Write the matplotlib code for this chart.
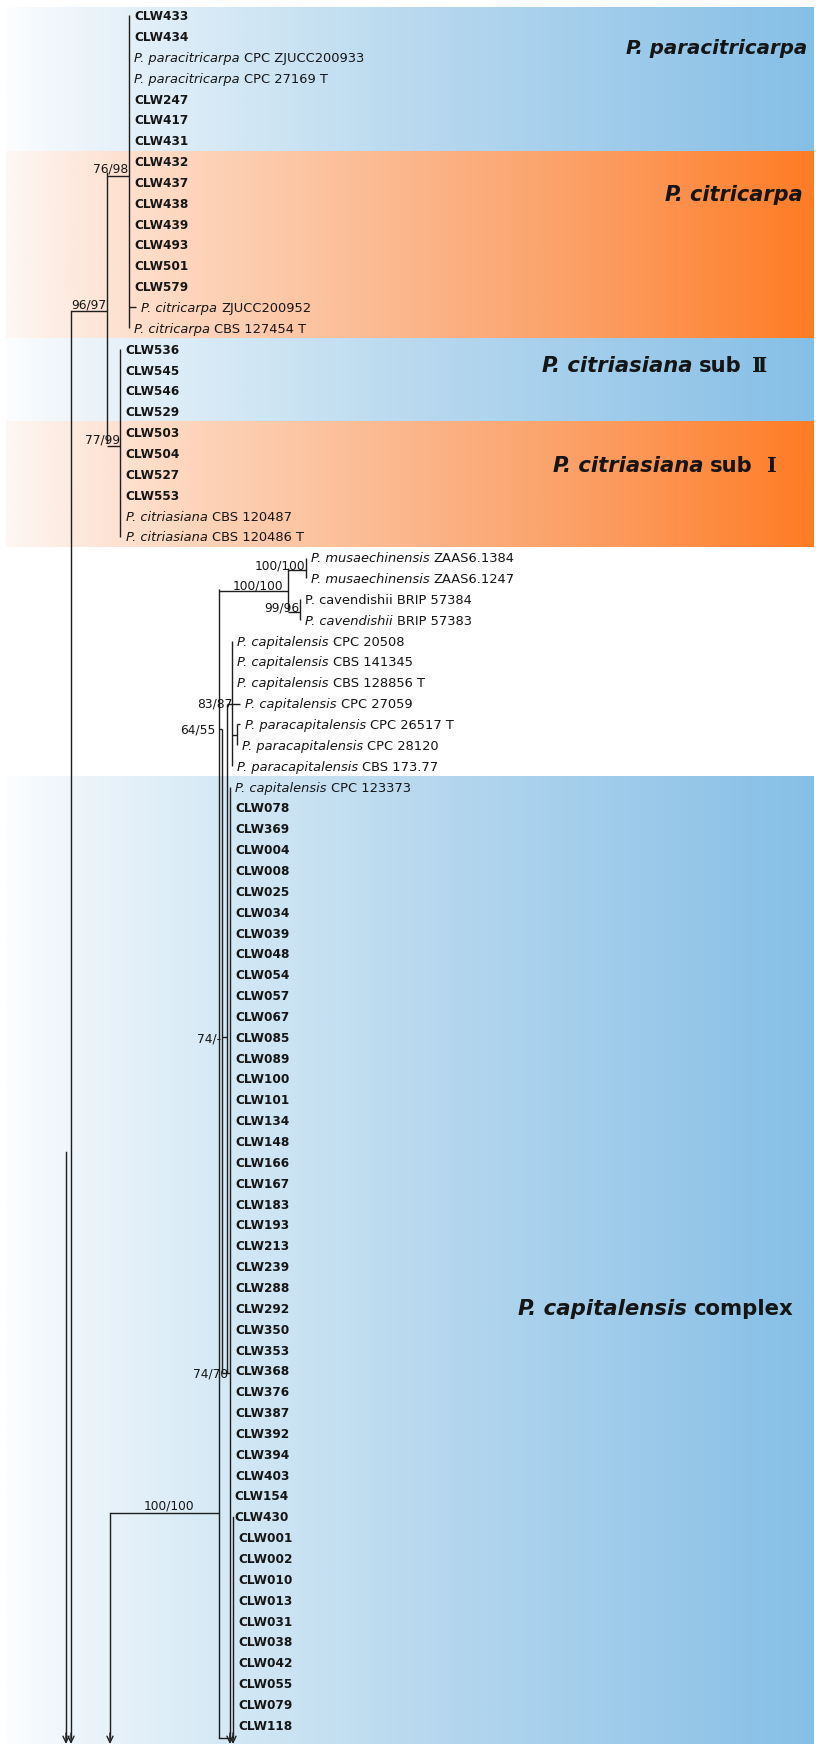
import matplotlib
matplotlib.use("Agg")
import matplotlib.pyplot as plt
import numpy as np
from matplotlib.colors import LinearSegmentedColormap

# ---------------- data ----------------
# tip labels: "italic part|regular part"; bold CLW isolates have no "|"
tips_paracitricarpa = ["CLW433", "CLW434", "P. paracitricarpa|CPC ZJUCC200933",
                       "P. paracitricarpa|CPC 27169 T", "CLW247", "CLW417", "CLW431"]
tips_citricarpa = ["CLW432", "CLW437", "CLW438", "CLW439", "CLW493", "CLW501", "CLW579",
                   "P. citricarpa|ZJUCC200952", "P. citricarpa|CBS 127454 T"]
tips_sub2 = ["CLW536", "CLW545", "CLW546", "CLW529"]
tips_sub1 = ["CLW503", "CLW504", "CLW527", "CLW553",
             "P. citriasiana|CBS 120487", "P. citriasiana|CBS 120486 T"]
tips_other = ["P. musaechinensis|ZAAS6.1384", "P. musaechinensis|ZAAS6.1247",
              "|P. cavendishii BRIP 57384", "P. cavendishii|BRIP 57383",
              "P. capitalensis|CPC 20508", "P. capitalensis|CBS 141345",
              "P. capitalensis|CBS 128856 T", "P. capitalensis|CPC 27059",
              "P. paracapitalensis|CPC 26517 T", "P. paracapitalensis|CPC 28120",
              "P. paracapitalensis|CBS 173.77"]
tips_complex = ["P. capitalensis|CPC 123373",
                "CLW078", "CLW369", "CLW004", "CLW008", "CLW025", "CLW034", "CLW039",
                "CLW048", "CLW054", "CLW057", "CLW067", "CLW085", "CLW089", "CLW100",
                "CLW101", "CLW134", "CLW148", "CLW166", "CLW167", "CLW183", "CLW193",
                "CLW213", "CLW239", "CLW288", "CLW292", "CLW350", "CLW353", "CLW368",
                "CLW376", "CLW387", "CLW392", "CLW394", "CLW403", "CLW154", "CLW430",
                "CLW001", "CLW002", "CLW010", "CLW013", "CLW031", "CLW038", "CLW042",
                "CLW055", "CLW079", "CLW118"]

# x of the node each tip hangs on, and x where the tip branch ends (tree units)
tip_node_x = ([129] * 16 + [120] * 10 + [306, 306, 300, 300] +
              [232, 232, 232, 232, 237, 237, 232] + [230] * 36 + [233] * 10)
tip_end_x = ([129] * 14 + [136, 129] + [120.5] * 10 + [306, 306, 300, 300] +
             [232, 232, 232, 240, 240, 237, 232] + [230] * 34 + [229, 229] + [233] * 10)

# internal nodes: x, first row, last row, parent x, joining row, support
node_x      = [129, 120, 107, 306, 300, 288, 237, 232, 226.5, 222, 230, 219]
node_top    = [0, 16, 7.5, 26, 28, 26.5, 34, 30, 33, 34.2, 37, 27.5]
node_bot    = [15, 25, 20.5, 27, 29, 28.5, 35, 36, 65.1, 65.1, 82.6, 82.6]
node_par_x  = [107, 107, 71, 288, 288, 219, 232, 226.5, 222, 219, 222, 110]
node_join   = [7.7, 20.65, 14.17, 26.6, 28.6, 27.6, 34.5, 33, 49, 34.2, 65.1, 71.8]
node_support = ["76/98", "77/99", "96/97", "100/100", "99/96", "100/100", "",
                "83/87", "74/-", "64/55", "74/70", "100/100"]

# lines that continue off the bottom of the figure (x, starting row)
cont_x   = [66, 71, 110, 233]
cont_top = [54.5, 14.17, 71.8, 72]

# coloured clade bands and their labels
band_first = [-0.4, 6.5, 15.5, 19.5, 36.5]
band_last  = [6.5, 15.5, 19.5, 25.5, 83.0]
band_kind  = ["blue", "orange", "blue", "orange", "blue"]
band_italic = ["P. paracitricarpa", "P. citricarpa", "P. citriasiana", "P. citriasiana",
               "P. capitalensis"]
band_regular = ["", "", "sub", "sub", "complex"]
band_numeral = ["", "", "\u2161", "\u2160", ""]

# ---------------- layout ----------------
W, H = 822, 1744
ROW0, ROWH = 15.5, 20.85
TXT = "#151515"
LINE = "#1e1e1e"
LW = 1.0


def ry(r):
    return ROW0 + ROWH * r


fig = plt.figure(figsize=(W / 100, H / 100), dpi=100)
ax = fig.add_axes([0, 0, 1, 1])
ax.set_xlim(0, W)
ax.set_ylim(H, 0)
ax.axis("off")
renderer = fig.canvas.get_renderer()

cmaps = {
    "blue": LinearSegmentedColormap.from_list("b", [(0, "#fcfdfe"), (0.08, "#eef5fb"),
                                                    (0.25, "#d7eaf6"), (0.5, "#b9d9ef"),
                                                    (0.75, "#a0cceb"), (1, "#86bfe6")]),
    "orange": LinearSegmentedColormap.from_list("o", [(0, "#fdf7f3"), (0.08, "#fdeadf"),
                                                      (0.25, "#fdd2b7"), (0.5, "#fbb68b"),
                                                      (0.75, "#fc9b5e"), (1, "#ff7c24")]),
}
grad = np.linspace(0, 1, 400).reshape(1, -1)
BX0, BX1 = 6, 813
for f, l, k in zip(band_first, band_last, band_kind):
    y0, y1 = ry(f), min(ry(l), H)
    ax.imshow(grad, cmap=cmaps[k], extent=(BX0, BX1, y1, y0), aspect="auto",
              interpolation="bilinear", zorder=0)


def place(x, y, segs, ha="left", size=9.1):
    objs, widths = [], []
    for s, w, st, fam in segs:
        t = ax.text(0, y, s, fontsize=size, fontweight=w, fontstyle=st, family=fam,
                    va="baseline", ha="left", color=TXT, zorder=5)
        widths.append(t.get_window_extent(renderer).width)
        objs.append(t)
    space = 0.318 * size * 100 / 72
    total = sum(widths) + space * (len(segs) - 1)
    cur = x if ha == "left" else x - total
    for t, wd in zip(objs, widths):
        t.set_x(cur)
        cur += wd + space


# tips
all_tips = (tips_paracitricarpa + tips_citricarpa + tips_sub2 + tips_sub1 +
            tips_other + tips_complex)
for i, lab in enumerate(all_tips):
    y = ry(i)
    nx, ex = tip_node_x[i], tip_end_x[i]
    if ex - nx > 0.6:
        ax.plot([nx, ex], [y, y], color=LINE, lw=LW, zorder=3, solid_capstyle="butt")
    base = y + 4.6
    if "|" in lab:
        it, rg = lab.split("|")
        segs = []
        if it:
            segs.append((it, "normal", "italic", "DejaVu Sans"))
        segs.append((rg, "normal", "normal", "DejaVu Sans"))
        place(ex + 5, base, segs, size=9.4)
    else:
        ax.text(ex + 5, base, lab, fontsize=8.7, fontweight="bold", va="baseline",
                ha="left", color=TXT, family="DejaVu Sans", zorder=5)

# internal nodes
for x, t, b, px, j in zip(node_x, node_top, node_bot, node_par_x, node_join):
    ax.plot([x, x], [ry(t), ry(b)], color=LINE, lw=LW, zorder=3, solid_capstyle="butt")
    ax.plot([px, x], [ry(j), ry(j)], color=LINE, lw=LW, zorder=3, solid_capstyle="butt")

# support values (anchor positions)
sup_x  = [128, 120, 88.5, 305, 299, 258, 0, 232, 221, 215, 228, 169]
sup_ha = ["right", "right", "center", "right", "right", "center", "left", "right",
          "right", "right", "right", "center"]
sup_y  = [173, 443, 308.5, 569, 611, 589, 0, 707, 1042, 733, 1377, 1509]
for s, x, ha, y in zip(node_support, sup_x, sup_ha, sup_y):
    if s:
        ax.text(x, y, s, fontsize=8.8, ha=ha, va="baseline", color=TXT,
                family="DejaVu Sans", zorder=6)

# lines continuing off-figure, with arrowheads
for x, t in zip(cont_x, cont_top):
    ax.plot([x, x], [ry(t), 1738], color=LINE, lw=LW, zorder=3)
ax.plot([219, 230], [1738, 1738], color=LINE, lw=LW, zorder=3)
for x in cont_x + [230]:
    ax.annotate("", xy=(x, 1744), xytext=(x, 1733),
                arrowprops=dict(arrowstyle="->,head_length=0.45,head_width=0.22",
                                color=LINE, lw=LW, shrinkA=0, shrinkB=0), zorder=4)

# clade labels
lab_right = [807, 803, 742, 753, 793]
lab_base = [54, 201, 372, 472, 1315]
lab_size = [14.2, 15.0, 15.2, 15.2, 15.3]
num_center = [0, 0, 760, 772, 0]
for it, rg, nm, xr, yb, sz, nc in zip(band_italic, band_regular, band_numeral,
                                       lab_right, lab_base, lab_size, num_center):
    segs = [(it, "bold", "italic", "DejaVu Sans")]
    if rg:
        segs.append((rg, "bold", "normal", "DejaVu Sans"))
    place(xr, yb, segs, ha="right", size=sz)
    if nm:
        ax.text(nc, yb, nm, fontsize=15, fontweight="bold", ha="center", va="baseline",
                family=["DejaVu Serif", "Noto Sans CJK SC"], color=TXT, zorder=5)

fig.savefig("out.png", dpi=100)
